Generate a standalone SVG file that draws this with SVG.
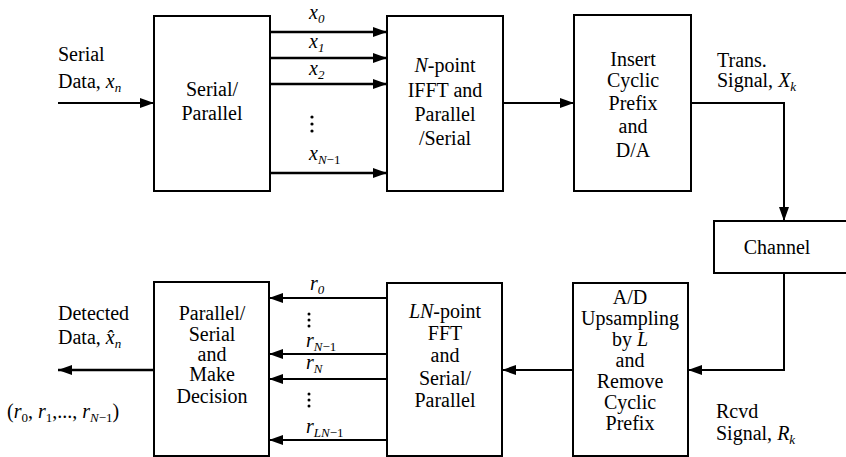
<svg xmlns="http://www.w3.org/2000/svg" width="846" height="457" viewBox="0 0 846 457">
<defs>
<style>
.box{fill:#fff;stroke:#000;stroke-width:2}
text{font-family:'Liberation Serif','Times New Roman','DejaVu Serif',serif;font-size:20px;fill:#000}
.c{text-anchor:middle}
.i{font-style:italic}
.s{font-size:13px}
.ln{fill:none;stroke:#000;stroke-width:2}
.thick{stroke-width:2.6}
</style>
<marker id="ah" markerWidth="14" markerHeight="10" refX="14" refY="5" orient="auto" markerUnits="userSpaceOnUse"><path d="M0,0 L14,5 L0,10 z" fill="#000"/></marker>
</defs>
<rect width="846" height="457" fill="#fff"/>

<g id="sp">
<rect class="box" x="154" y="16" width="116" height="175"/>
<text class="c" x="212" y="96">Serial/</text>
<text class="c" x="212" y="120">Parallel</text>
</g>

<g id="ifft">
<rect class="box" x="387" y="16" width="116" height="175"/>
<text class="c" x="445" y="72"><tspan class="i">N</tspan>-point</text>
<text class="c" x="445" y="97">IFFT  and</text>
<text class="c" x="445" y="121">Parallel</text>
<text class="c" x="445" y="145">/Serial</text>
</g>

<g id="cp">
<rect class="box" x="574" y="15" width="117" height="176"/>
<text class="c" x="633" y="66">Insert</text>
<text class="c" x="633" y="87">Cyclic</text>
<text class="c" x="633" y="110">Prefix</text>
<text class="c" x="633" y="133">and</text>
<text class="c" x="633" y="157">D/A</text>
</g>

<g id="channel">
<rect class="box" x="714" y="221" width="140" height="52"/>
<text class="c" x="777" y="254">Channel</text>
</g>

<g id="ad">
<rect class="box" x="573" y="283" width="115" height="173"/>
<text class="c" x="630" y="304">A/D</text>
<text class="c" x="630" y="325">Upsampling</text>
<text class="c" x="630" y="346">by <tspan class="i">L</tspan></text>
<text class="c" x="630" y="367">and</text>
<text class="c" x="630" y="388">Remove</text>
<text class="c" x="630" y="409">Cyclic</text>
<text class="c" x="630" y="430">Prefix</text>
</g>

<g id="fft">
<rect class="box" x="387" y="283" width="115" height="173"/>
<text class="c" x="445" y="318"><tspan class="i">LN</tspan>-point</text>
<text class="c" x="445" y="340">FFT</text>
<text class="c" x="445" y="362">and</text>
<text class="c" x="445" y="385">Serial/</text>
<text class="c" x="445" y="407">Parallel</text>
</g>

<g id="ps">
<rect class="box" x="154" y="282" width="115" height="174"/>
<text class="c" x="212" y="320">Parallel/</text>
<text class="c" x="212" y="341">Serial</text>
<text class="c" x="212" y="361">and</text>
<text class="c" x="212" y="381">Make</text>
<text class="c" x="212" y="403">Decision</text>
</g>

<g id="labels">
<text x="58" y="61">Serial</text>
<text x="58" y="88">Data,  <tspan class="i">x</tspan><tspan class="i s" dy="4">n</tspan></text>
<text class="i" x="309" y="19">x<tspan class="s" dy="4">0</tspan></text>
<text class="i" x="309" y="48">x<tspan class="s" dy="4">1</tspan></text>
<text class="i" x="309" y="75">x<tspan class="s" dy="4">2</tspan></text>
<text class="i" x="309" y="160">x<tspan class="s" dy="4">N</tspan><tspan class="s" font-style="normal">−1</tspan></text>
<text x="717" y="67">Trans.</text>
<text x="717" y="87">Signal,  <tspan class="i">X</tspan><tspan class="i s" dy="4">k</tspan></text>
<text x="58" y="320">Detected</text>
<text x="58" y="344">Data,  <tspan class="i">x&#770;</tspan><tspan class="i s" dy="4">n</tspan></text>
<text x="7" y="418">(<tspan class="i">r</tspan><tspan class="s" dy="4">0</tspan><tspan dy="-4">, </tspan><tspan class="i">r</tspan><tspan class="s" dy="4">1</tspan><tspan dy="-4">,..., </tspan><tspan class="i">r</tspan><tspan class="s i" dy="4">N</tspan><tspan class="s">−1</tspan><tspan dy="-4">)</tspan></text>
<text class="i" x="310" y="290">r<tspan class="s" dy="4">0</tspan></text>
<text class="i" x="306" y="347">r<tspan class="s" dy="4">N</tspan><tspan class="s" font-style="normal">−1</tspan></text>
<text class="i" x="306" y="369">r<tspan class="s" dy="4">N</tspan></text>
<text class="i" x="306" y="433">r<tspan class="s" dy="4">LN</tspan><tspan class="s" font-style="normal">−1</tspan></text>
<text x="716" y="418">Rcvd</text>
<text x="716" y="440">Signal,  <tspan class="i">R</tspan><tspan class="i s" dy="4">k</tspan></text>
<g fill="#000">
<circle cx="312" cy="117" r="1.6"/><circle cx="312" cy="124" r="1.6"/><circle cx="312" cy="131" r="1.6"/>
<circle cx="309" cy="314" r="1.5"/><circle cx="309" cy="320" r="1.5"/><circle cx="309" cy="326" r="1.5"/>
<circle cx="309" cy="394" r="1.5"/><circle cx="309" cy="400" r="1.5"/><circle cx="309" cy="406" r="1.5"/>
</g>
</g>

<g id="connectors">
<path class="ln" d="M58,103 H154" marker-end="url(#ah)"/>
<path class="ln thick" d="M270,32 H387" marker-end="url(#ah)"/>
<path class="ln thick" d="M270,58 H387" marker-end="url(#ah)"/>
<path class="ln thick" d="M270,84 H387" marker-end="url(#ah)"/>
<path class="ln thick" d="M270,173 H387" marker-end="url(#ah)"/>
<path class="ln" d="M503,103 H574" marker-end="url(#ah)"/>
<path class="ln" d="M691,103 H784 V221" marker-end="url(#ah)"/>
<path class="ln" d="M784,273 V370 H688" marker-end="url(#ah)"/>
<path class="ln" d="M573,370 H502" marker-end="url(#ah)"/>
<path class="ln" d="M387,298 H269" marker-end="url(#ah)"/>
<path class="ln" d="M387,354 H269" marker-end="url(#ah)"/>
<path class="ln" d="M387,379 H269" marker-end="url(#ah)"/>
<path class="ln" d="M387,440 H269" marker-end="url(#ah)"/>
<path class="ln thick" d="M154,370 H58" marker-end="url(#ah)"/>
</g>
</svg>
